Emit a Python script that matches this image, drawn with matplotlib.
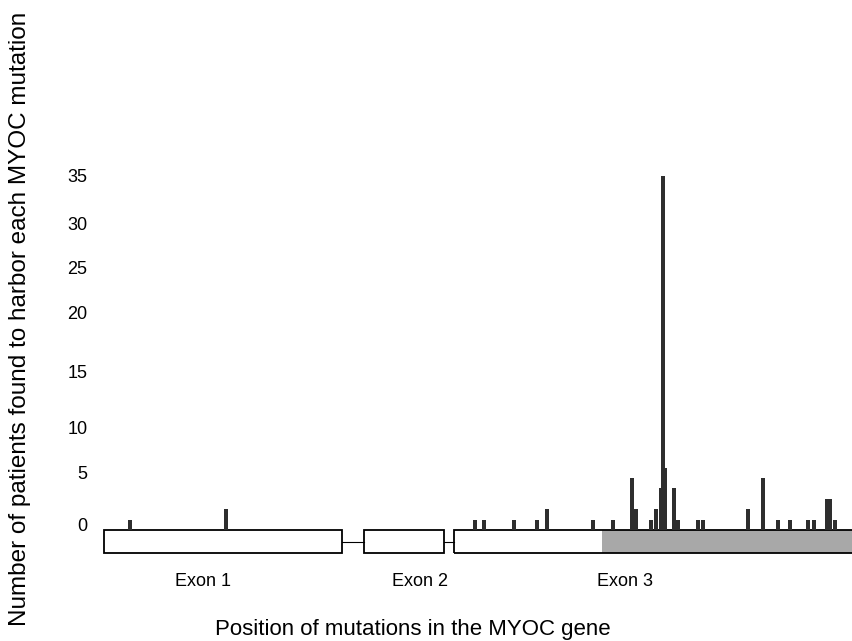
import matplotlib
matplotlib.use('Agg')
import matplotlib.pyplot as plt
from matplotlib.patches import Rectangle

plt.rcParams['font.family'] = ['Liberation Sans', 'DejaVu Sans']
plt.rcParams['hatch.color'] = '#8c8c8c'
plt.rcParams['hatch.linewidth'] = 0.8

# mutation positions along the gene (drawing units) and patient counts
positions = [130, 226, 475, 484, 514, 537, 547, 593, 613, 632, 636, 651, 656,
             661, 663, 665, 674, 678, 698, 703, 748, 763, 778, 790, 808, 814,
             827, 830, 835]
counts = [1, 2, 1, 1, 1, 1, 2, 1, 1, 5, 2, 1, 2,
          4, 34, 6, 4, 1, 1, 1, 2, 5, 1, 1, 1, 1,
          3, 3, 1]

# exon layout (same units)
exon_names = ['Exon 1', 'Exon 2', 'Exon 3']
exon_start = [104, 364, 454]
exon_end = [342, 444, 858]
exon_label_x = [203, 420, 625]
olf_start = 602  # shaded domain inside exon 3

ytick_pos = [0.5, 5.5, 9.9, 15.2, 20.9, 25.2, 29.5, 34.1]
ytick_labels = ['0', '5', '10', '15', '20', '25', '30', '35']

W, H = 853, 641
fig = plt.figure(figsize=(W / 100, H / 100), dpi=100)
px = 10.4  # pixels per patient
ax = fig.add_axes([100 / W, (H - 560) / H, 753 / W, 400 / H])
ax.set_xlim(100, 853)
ax.set_ylim((530 - 560) / px, (530 - 160) / px)

box_h = 23 / px
ax.add_patch(Rectangle((olf_start, -box_h), exon_end[-1] - olf_start, box_h,
                       facecolor='#a8a8a8', edgecolor='none', hatch='....',
                       clip_on=False, zorder=1.5))
for s, e in zip(exon_start, exon_end):
    ax.add_patch(Rectangle((s, -box_h), e - s, box_h, facecolor='none',
                           edgecolor='black', linewidth=1.3, clip_on=False, zorder=2))
for s, e in zip(exon_start, exon_end):
    ax.add_patch(Rectangle((s, -box_h), e - s, box_h, facecolor='white',
                           edgecolor='none', clip_on=False, zorder=0.5))
for i in range(len(exon_start) - 1):
    ax.plot([exon_end[i], exon_start[i + 1]], [-12 / px, -12 / px],
            color='black', lw=0.8, zorder=1)

ax.bar(positions, counts, width=3.6, bottom=0, color='#2e2e2e', zorder=3)

for name, x in zip(exon_names, exon_label_x):
    ax.text(x, (530 - 581) / px, name, ha='center', va='center', fontsize=13,
            clip_on=False)

ax.set_yticks(ytick_pos)
ax.set_yticklabels(ytick_labels, fontsize=13)
ax.tick_params(axis='y', length=0, pad=9)
ax.set_xticks([])
for sp in ax.spines.values():
    sp.set_visible(False)

fig.text(413 / W, 1 - 630 / H, 'Position of mutations in the MYOC gene',
         ha='center', va='center', fontsize=16)
fig.text(20 / W, 1 - 319 / H, 'Number of patients found to harbor each MYOC mutation',
         ha='center', va='center', rotation=90, fontsize=17.5)

fig.savefig('out.png', dpi=100)
